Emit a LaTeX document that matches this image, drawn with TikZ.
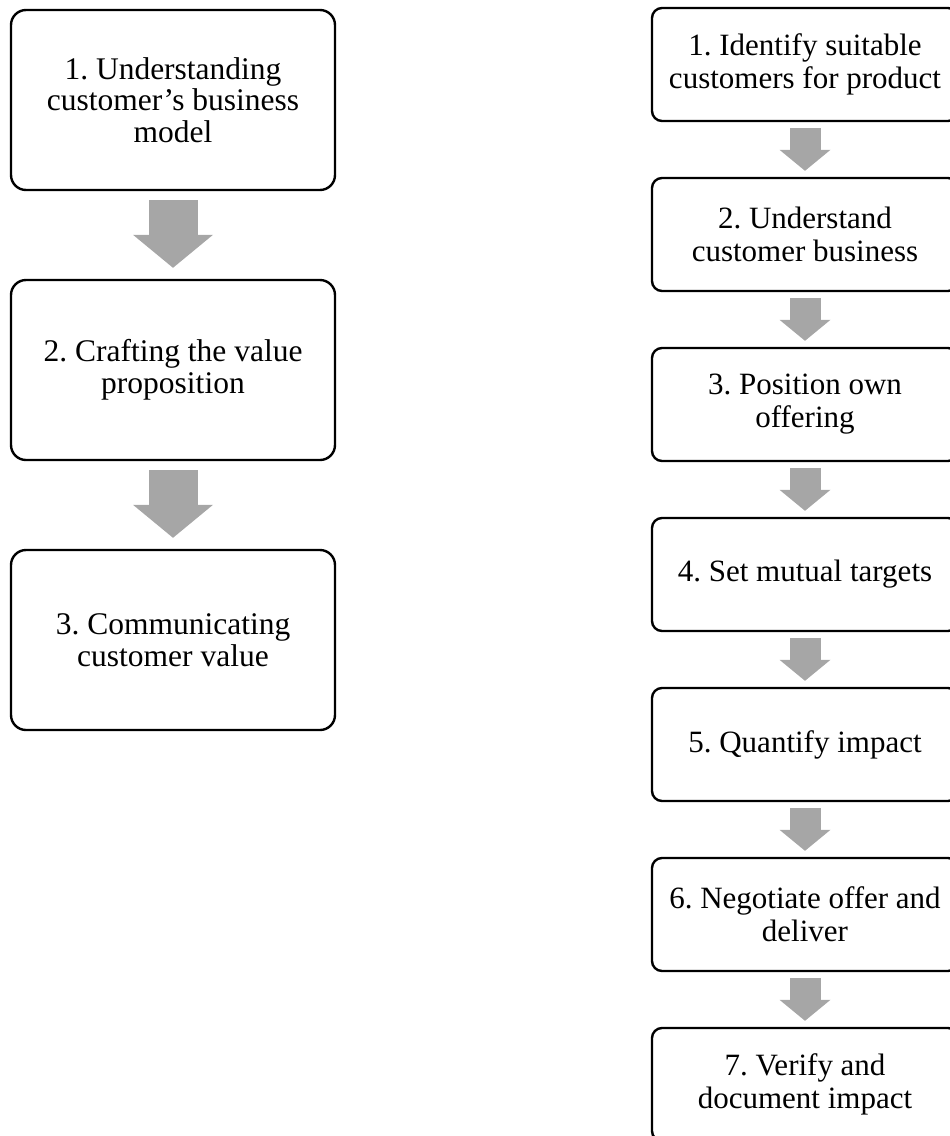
\documentclass[tikz,border=0pt]{standalone}
\usepackage{fontspec}
\setmainfont{Liberation Serif}
\usepackage{tikz}
\usetikzlibrary{calc,positioning,arrows.meta,shapes}
\definecolor{arrowgray}{RGB}{166,166,166}
\frenchspacing

\begin{document}
\begin{tikzpicture}[x=1pt,y=-1pt]
      \tikzstyle{phase}=[rectangle,draw,line width=2.4pt,rounded corners=15pt,align=center,minimum width=324pt,minimum height=180pt,font=\fontsize{31.5}{31.5}\selectfont]
      \tikzstyle{stage}=[rectangle,draw,line width=2.4pt,rounded corners=10pt,align=center,minimum width=306pt,minimum height=113pt,font=\fontsize{31}{33}\selectfont]
      \tikzstyle{bigflow}=[arrowgray,line width=49pt,-{Triangle[width=80pt,length=33pt,line width=0pt]},shorten <=9pt,shorten >=11pt]
      \tikzstyle{smallflow}=[arrowgray,line width=31pt,-{Triangle[width=51pt,length=21pt,line width=0pt]},shorten <=6pt,shorten >=6pt]
      \useasboundingbox (0,0) rectangle (950,1136);
      \clip (0,0) rectangle (950,1136);

      % left column
      \node[phase] (model) at (173,100) {1. Understanding\\customer's business\\model};
      \node[phase] (craft) [node distance=270pt, below of=model] {2. Crafting the value\\proposition};
      \node[phase] (comm) [node distance=270pt, below of=craft] {3. Communicating\\customer value};

      % right column
      \node[stage] (ident) at (805,64.5) {1. Identify suitable\\customers for product};
      \node[stage] (under) [node distance=170pt, below of=ident] {2. Understand\\customer business};
      \node[stage] (posit) [node distance=170pt, below of=under] {3. Position own\\offering};
      \node[stage] (targ) [node distance=170pt, below of=posit] {4. Set mutual targets};
      \node[stage] (quant) [node distance=170pt, below of=targ] {5. Quantify impact};
      \node[stage] (nego) [node distance=170pt, below of=quant] {6. Negotiate offer and\\deliver};
      \node[stage] (verif) [node distance=170pt, below of=nego] {7. Verify and\\document impact};

      \draw[bigflow] (model) -- (craft);
      \draw[bigflow] (craft) -- (comm);

      \draw[smallflow] (ident) -- (under);
      \draw[smallflow] (under) -- (posit);
      \draw[smallflow] (posit) -- (targ);
      \draw[smallflow] (targ) -- (quant);
      \draw[smallflow] (quant) -- (nego);
      \draw[smallflow] (nego) -- (verif);
    \end{tikzpicture}
\end{document}
